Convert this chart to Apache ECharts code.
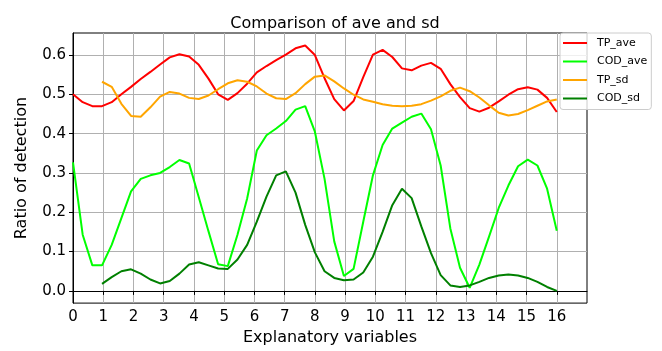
<!DOCTYPE html>
<html>
<head>
<meta charset="utf-8">
<script src="https://cdn.jsdelivr.net/npm/echarts@6/dist/echarts.min.js"></script>
<style>
  html, body { margin: 0; padding: 0; background: #fff; }
  #chart { width: 662px; height: 351px; }
</style>
</head>
<body>
<div id="chart"></div>
<script>
// x positions (explanatory variables)
var xs = [0, 0.32, 0.64, 0.96, 1.28, 1.6, 1.92, 2.24, 2.56, 2.88, 3.2, 3.52, 3.84, 4.16, 4.48, 4.8,
    5.12, 5.44, 5.76, 6.08, 6.4, 6.72, 7.04, 7.36, 7.68, 8, 8.32, 8.64, 8.96, 9.28, 9.6, 9.92,
    10.24, 10.56, 10.88, 11.2, 11.52, 11.84, 12.16, 12.48, 12.8, 13.12, 13.44, 13.76, 14.08,
    14.4, 14.72, 15.04, 15.36, 15.68, 16];
// sd curves start at x = 0.96
var xsSd = [0.96, 1.28, 1.6, 1.92, 2.24, 2.56, 2.88, 3.2, 3.52, 3.84, 4.16, 4.48, 4.8,
    5.12, 5.44, 5.76, 6.08, 6.4, 6.72, 7.04, 7.36, 7.68, 8, 8.32, 8.64, 8.96, 9.28, 9.6, 9.92,
    10.24, 10.56, 10.88, 11.2, 11.52, 11.84, 12.16, 12.48, 12.8, 13.12, 13.44, 13.76, 14.08,
    14.4, 14.72, 15.04, 15.36, 15.68, 16];

var tpAve = [0.50, 0.48, 0.47, 0.47, 0.48, 0.50, 0.519, 0.539, 0.557, 0.576, 0.594, 0.602, 0.596,
    0.575, 0.54, 0.50, 0.486, 0.503, 0.527, 0.556, 0.572, 0.587, 0.601, 0.617, 0.624, 0.60,
    0.541, 0.488, 0.459, 0.483, 0.544, 0.601, 0.613, 0.595, 0.566, 0.561, 0.573, 0.58,
    0.565, 0.526, 0.493, 0.465, 0.456, 0.466, 0.482, 0.499, 0.513, 0.518, 0.512, 0.491, 0.455];
var codAve = [0.327, 0.143, 0.065, 0.065, 0.117, 0.185, 0.253, 0.285, 0.294, 0.30, 0.315, 0.333, 0.324,
    0.238, 0.152, 0.068, 0.063, 0.143, 0.235, 0.357, 0.396, 0.413, 0.432, 0.461, 0.47, 0.405,
    0.285, 0.126, 0.038, 0.056, 0.176, 0.294, 0.371, 0.413, 0.428, 0.443, 0.451, 0.411,
    0.319, 0.159, 0.059, 0.008, 0.067, 0.138, 0.211, 0.268, 0.317, 0.334, 0.319, 0.26, 0.153];
var tpSd = [0.532, 0.519, 0.476, 0.445, 0.443, 0.467, 0.494, 0.506, 0.502, 0.491,
    0.488, 0.497, 0.513, 0.528, 0.536, 0.532, 0.52, 0.502, 0.49, 0.488, 0.503, 0.526, 0.545,
    0.548, 0.533, 0.515, 0.499, 0.487, 0.481, 0.475, 0.471, 0.47, 0.471, 0.475, 0.484,
    0.495, 0.509, 0.517, 0.508, 0.492, 0.472, 0.453, 0.446, 0.45, 0.46, 0.471, 0.482, 0.487];
var codSd = [0.018, 0.035, 0.05, 0.055, 0.044, 0.029, 0.019, 0.025, 0.044, 0.067,
    0.073, 0.065, 0.057, 0.056, 0.08, 0.117, 0.176, 0.24, 0.294, 0.304, 0.25, 0.168, 0.098,
    0.05, 0.033, 0.027, 0.029, 0.047, 0.087, 0.15, 0.218, 0.26, 0.236, 0.164, 0.096,
    0.04, 0.014, 0.01, 0.014, 0.023, 0.033, 0.039, 0.042, 0.039, 0.033, 0.023, 0.01, 0.0];

var xTicks = [0, 1, 2, 3, 4, 5, 6, 7, 8, 9, 10, 11, 12, 13, 14, 15, 16];
var yTicks = [0, 0.1, 0.2, 0.3, 0.4, 0.5, 0.6];

function pairs(x, y) {
    return y.map(function (v, i) { return [x[i], v]; });
}

var font = 'DejaVu Sans';

var option = {
    animation: false,
    backgroundColor: '#fff',
    title: {
        text: 'Comparison of ave and sd',
        left: 330,
        top: 11,
        textAlign: 'center',
        textStyle: { fontFamily: font, fontSize: 16, fontWeight: 'normal', color: '#000' }
    },
    legend: {
        orient: 'vertical',
        left: 560,
        top: 33,
        padding: [4, 4, 5, 3],
        itemWidth: 24,
        itemHeight: 2,
        itemGap: 6.5,
        icon: 'rect',
        backgroundColor: 'rgba(255,255,255,0.8)',
        borderColor: '#cccccc',
        borderWidth: 1,
        borderRadius: 3,
        textStyle: { fontFamily: font, fontSize: 11, lineHeight: 12, color: '#000', padding: [0, 0, 0, 5] },
        data: ['TP_ave', 'COD_ave', 'TP_sd', 'COD_sd']
    },
    grid: {
        left: 73, right: 75, top: 33, bottom: 46,
        show: true, borderColor: '#000', borderWidth: 1, backgroundColor: 'transparent'
    },
    xAxis: {
        type: 'value',
        min: 0, max: 17, interval: 1,
        name: 'Explanatory variables',
        nameLocation: 'middle',
        nameGap: 25,
        nameTextStyle: { fontFamily: font, fontSize: 16, color: '#000' },
        axisLine: { show: true, lineStyle: { color: '#000', width: 1 } },
        axisTick: { show: true, length: 4, lineStyle: { color: '#000' }, customValues: xTicks },
        axisLabel: { fontFamily: font, fontSize: 15, color: '#000', margin: 7, customValues: xTicks },
        splitLine: { show: true, lineStyle: { color: '#b0b0b0', width: 1 } }
    },
    yAxis: {
        type: 'value',
        min: -0.031, max: 0.656,
        splitNumber: 7,
        name: 'Ratio of detection',
        nameLocation: 'middle',
        nameGap: 43,
        nameTextStyle: { fontFamily: font, fontSize: 16, color: '#000' },
        axisLine: { show: true, lineStyle: { color: '#000', width: 1 } },
        axisTick: { show: true, length: 4, lineStyle: { color: '#000' }, customValues: yTicks },
        axisLabel: {
            fontFamily: font, fontSize: 15, color: '#000', margin: 7, customValues: yTicks,
            formatter: function (v) { return v.toFixed(1); }
        },
        splitLine: { show: true, lineStyle: { color: '#b0b0b0', width: 1 } }
    },
    series: [
        { name: 'TP_ave', type: 'line', showSymbol: false, color: '#ff0000',
          lineStyle: { width: 2 }, data: pairs(xs, tpAve) },
        { name: 'COD_ave', type: 'line', showSymbol: false, color: '#00ff00',
          lineStyle: { width: 2 }, data: pairs(xs, codAve) },
        { name: 'TP_sd', type: 'line', showSymbol: false, color: '#ffa500',
          lineStyle: { width: 2 }, data: pairs(xsSd, tpSd) },
        { name: 'COD_sd', type: 'line', showSymbol: false, color: '#008000',
          lineStyle: { width: 2 }, data: pairs(xsSd, codSd) }
    ]
};

var mychart = echarts.init(document.getElementById('chart'));
mychart.setOption(option);
</script>
</body>
</html>
